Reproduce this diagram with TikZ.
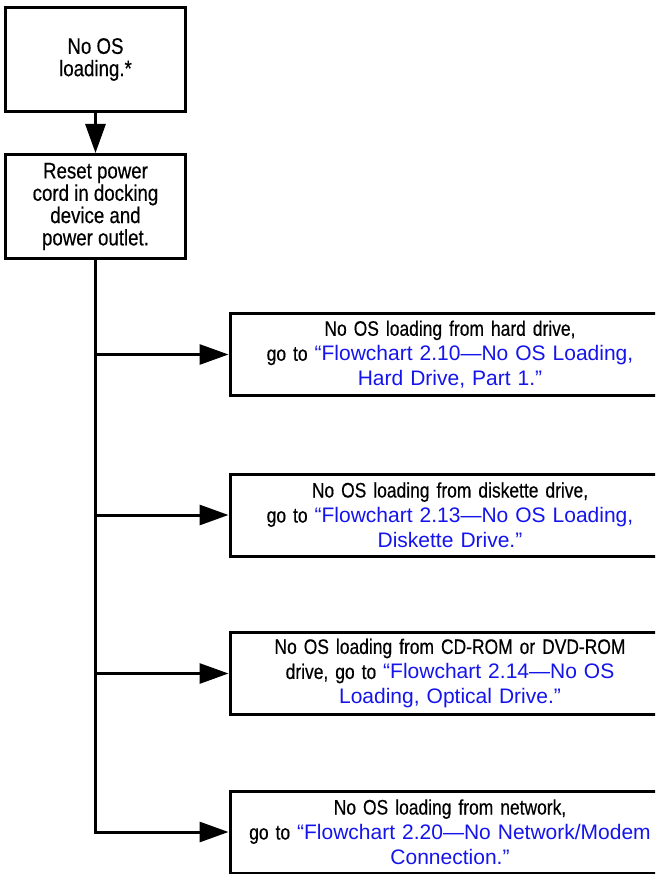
\documentclass[tikz,border=0pt]{standalone}
\usepackage{fontspec}
\setmainfont{Liberation Sans}[FakeStretch=0.83,FakeBold=0.4]
\newfontfamily\linkfont{Liberation Sans}
\usetikzlibrary{arrows.meta,positioning}
\definecolor{linkblue}{RGB}{20,20,235}
\newcommand{\golink}[1]{{\linkfont\color{linkblue}#1}}

\begin{document}
\begin{tikzpicture}[x=1pt,y=-1pt,
    stepbox/.style  = {draw, line width=3pt, align=center, inner sep=0pt},
    leftbox/.style  = {stepbox, minimum width=180pt, minimum height=104pt,
                       font=\fontsize{22.5}{22.3}\selectfont},
    rightbox/.style = {stepbox, minimum width=440pt, minimum height=82pt,
                       text width=430pt, font=\fontsize{21}{25}\selectfont},
    flow/.style     = {line width=3pt, -{Triangle[width=20pt,length=29pt]}},
    trunk/.style    = {line width=3pt}]
  \useasboundingbox (0,0) rectangle (655,874);
  \clip (0,0) rectangle (655,874);

  \node[leftbox] (start) at (95.5, 59.5) {No OS\\loading.*};
  \node[leftbox] (reset) at (95.5,206.5) {Reset power\\cord in docking\\device and\\power outlet.};

  \node[rightbox, anchor=west] (hard)    at (228.5,354.5)
    {No OS loading from hard drive,\\go to \golink{“Flowchart 2.10—No OS Loading,\\Hard Drive, Part 1.”}};
  \node[rightbox, anchor=west] (floppy)  at (228.5,515)
    {No OS loading from diskette drive,\\go to \golink{“Flowchart 2.13—No OS Loading,\\Diskette Drive.”}};
  \node[rightbox, anchor=west] (optical) at (228.5,673.5)
    {No OS loading from CD-ROM or DVD-ROM\\drive, go to \golink{“Flowchart 2.14—No OS\\Loading, Optical Drive.”}};
  \node[rightbox, anchor=west] (network) at (228.5,832)
    {No OS loading from network,\\go to \golink{“Flowchart 2.20—No Network/Modem\\Connection.”}};

  % branch points on the trunk
  \coordinate (jhard)    at (reset.south |- hard.west);
  \coordinate (jfloppy)  at (reset.south |- floppy.west);
  \coordinate (joptical) at (reset.south |- optical.west);
  \coordinate (jnetwork) at (reset.south |- network.west);

  \draw[flow]  (start) -- (reset);
  \draw[trunk] (reset.south) -- ([yshift=-1.5pt]jnetwork);
  \draw[flow]  (jhard) -- (hard);
  \draw[flow]  (jfloppy) -- (floppy);
  \draw[flow]  (joptical) -- (optical);
  \draw[flow]  (jnetwork) -- (network);
\end{tikzpicture}
\end{document}
